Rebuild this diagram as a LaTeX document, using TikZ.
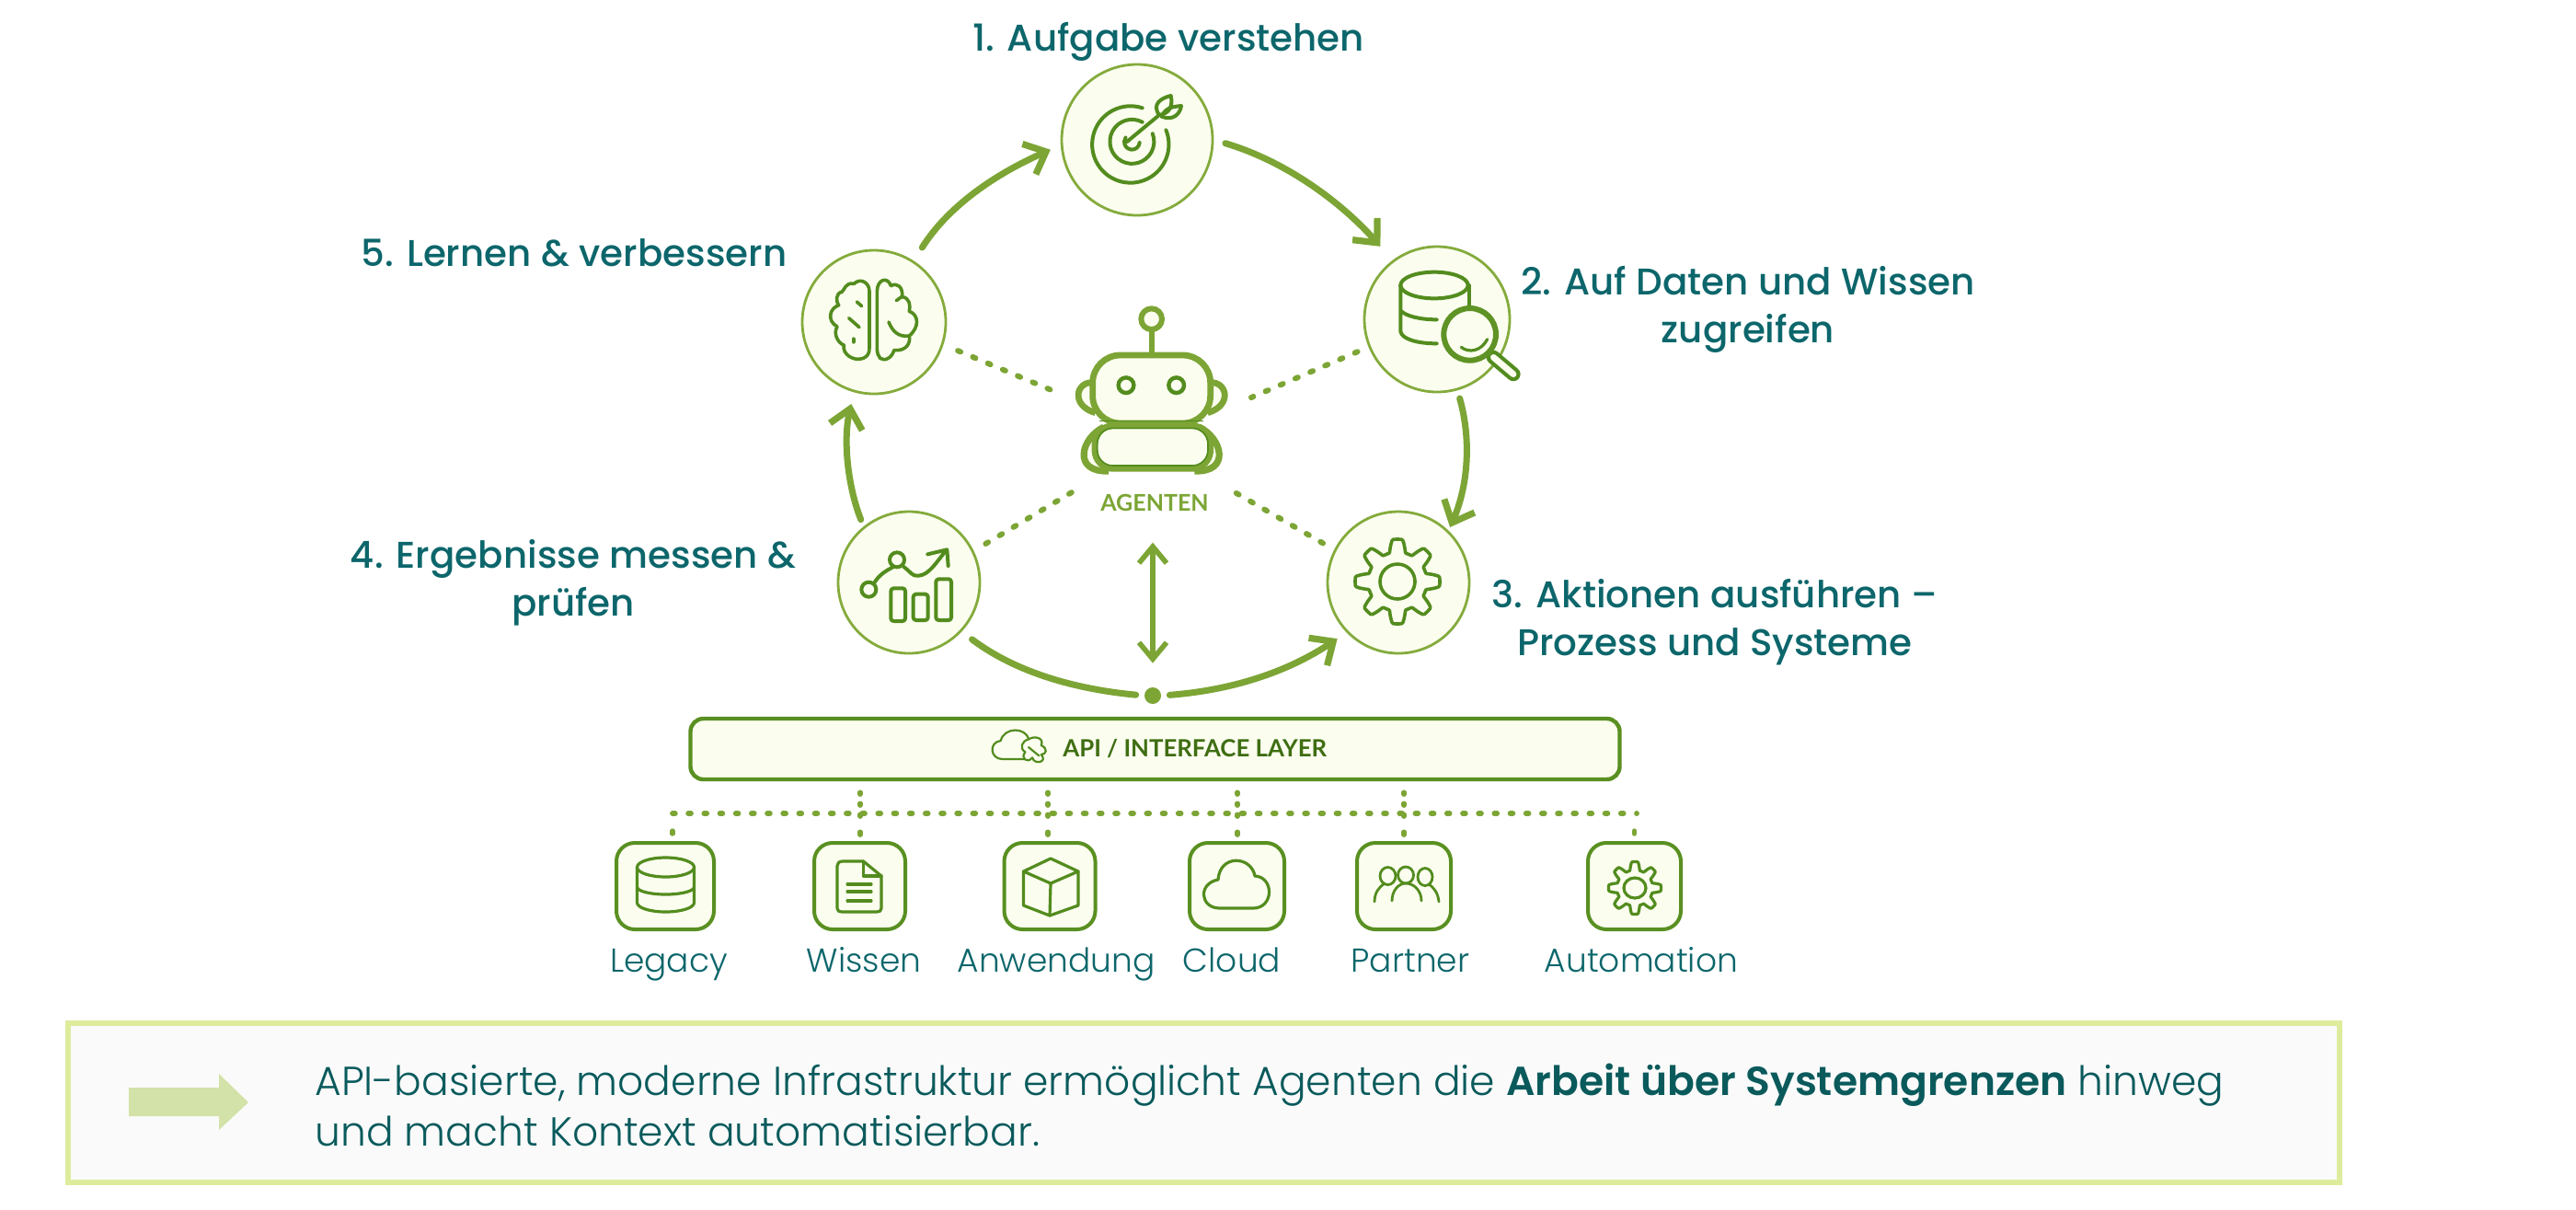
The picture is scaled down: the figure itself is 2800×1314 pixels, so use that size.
\documentclass[tikz,border=0pt]{standalone}
\usepackage{fontspec}
\usetikzlibrary{arrows.meta,calc}
\setmainfont{Poppins}
\newfontfamily\labelfont{Poppins Medium}
\newfontfamily\lightfont[BoldFont={Poppins SemiBold}]{Poppins Light}
\newfontfamily\capsfont{Lato Bold}
\definecolor{flowgreen}{HTML}{7CA535}
\definecolor{icongreen}{HTML}{538C1E}
\definecolor{ringgreen}{HTML}{84AB3C}
\definecolor{cream}{HTML}{FBFDEF}
\definecolor{tealtext}{HTML}{0C666B}
\definecolor{bodytext}{HTML}{0A5A5C}
\definecolor{apitext}{HTML}{3F6E12}
\definecolor{calloutedge}{HTML}{DDEC9C}
\definecolor{calloutfill}{HTML}{FAFAFA}
\definecolor{calloutarrow}{HTML}{D3E2A8}
\tikzset{
  stepcircle/.style={circle,draw=ringgreen,fill=cream,line width=1.4pt,inner sep=0pt,minimum size=#1},
  srcbox/.style={draw=icongreen!85!flowgreen,fill=cream,line width=2pt,rounded corners=10pt,inner sep=0pt,minimum height=47pt},
  flow/.style={draw=flowgreen,line width=3.5pt,line cap=round,-{Straight Barb[length=10pt,width=18pt,line width=3.6pt]}},
  twoway/.style={draw=flowgreen,line width=2.6pt,{Straight Barb[length=9pt,width=15pt,line width=2.8pt]}-{Straight Barb[length=9pt,width=15pt,line width=2.8pt]}},
  spoke/.style={draw=flowgreen,line width=3pt,line cap=round,dash pattern=on 1.6pt off 7.2pt},
  bus/.style={draw=flowgreen,line width=2.9pt,line cap=round,dash pattern=on 1.4pt off 7.19pt},
  stub/.style={draw=flowgreen,line width=2.7pt,line cap=round,dash pattern=on 1pt off 5pt on 1pt off 5pt on 1pt off 8.5pt on 1.5pt off 30pt},
  endstub/.style={draw=flowgreen,line width=2.7pt,line cap=round,dash pattern=on 1.5pt off 30pt},
  iconline/.style={draw=icongreen,line width=2pt,line cap=round,line join=round},
  smallicon/.style={draw=icongreen,line width=1.6pt,line cap=round,line join=round},
  steplabel/.style={text=tealtext,font=\labelfont\fontsize{20.2}{26}\selectfont,align=center,inner sep=0pt},
  srclabel/.style={text=tealtext,font=\lightfont\fontsize{18}{20}\selectfont,inner sep=0pt,anchor=base},
  zoomed/.style={shift={#1},scale=0.33333},
}
\newcommand{\cogwheel}[5]{% centre x, centre y, base radius, tooth amplitude, style
  \draw[#5] plot[domain=0:360,samples=193,variable=\t]
    ({#1+(#3+#4*max(-1,min(1,1.7*cos(8*\t))))*cos(\t)},{#2+(#3+#4*max(-1,min(1,1.7*cos(8*\t))))*sin(\t)}) -- cycle;}
\begin{document}
\begin{tikzpicture}[x=0.5pt,y=-0.5pt]
\useasboundingbox (0,0) rectangle (2800,1314);
\fill[white] (0,0) rectangle (2800,1314);

% Cycle steps
\node[stepcircle=164pt/2] (n1) at (1236,152) {};
\node[stepcircle=158pt/2] (n2) at (1562,347) {};
\node[stepcircle=154pt/2] (n3) at (1520,633) {};
\node[stepcircle=154pt/2] (n4) at (988,633) {};
\node[stepcircle=156pt/2] (n5) at (950,350) {};
\node[circle,fill=flowgreen,minimum size=9pt,inner sep=0pt] (hub) at (1253,756) {};

% Step titles
\node[steplabel] (t1) at (1270,45) {1. Aufgabe verstehen};
\node[steplabel] (t2) at (1900,336) {2. Auf Daten und Wissen\\zugreifen};
\node[steplabel] (t3) at (1864,676) {3. Aktionen ausführen –\\Prozess und Systeme};
\node[steplabel] (t4) at (623,633) {4. Ergebnisse messen \&\\prüfen};
\node[steplabel] (t5) at (624,275) {5. Lernen \& verbessern};

% Cycle arrows
\draw[flow,shorten <=6.5pt,shorten >=10pt] (n1.0) .. controls (1400,176) and (1460,222) .. (n2.127);
\draw[flow,shorten <=8.5pt,shorten >=6pt] (n5.57) .. controls (1030,225) and (1080,190) .. (n1.184);
\draw[flow,shorten <=4.5pt,shorten >=2pt] (n2.-74) .. controls (1600,480) and (1595,530) .. (n3.46);
\draw[flow,shorten <=4pt,shorten >=6.5pt] (n4.129) .. controls (922,530) and (916,480) .. (n5.254);
\draw[draw=flowgreen,line width=3.5pt,line cap=round,shorten <=7pt,shorten >=4.5pt] (n4.-43) .. controls (1110,735) and (1180,750) .. (hub.west);
\draw[flow,shorten <=4.5pt,shorten >=6pt] (hub.east) .. controls (1340,750) and (1400,730) .. (n3.224.5);

% Agent figure
\begin{scope}[zoomed={(1120,320)}]
  \draw[flowgreen,line width=3pt] (395,120) -- (395,195);
  \draw[flowgreen,fill=cream,line width=3pt] (395,80) circle[radius=34];
  \foreach \s/\m in {1/0,-1/790}{
    \begin{scope}[shift={(\m,0)},xscale=\s]
      \draw[flowgreen,fill=cream,line width=3.4pt,line join=round] (205,287) .. controls (148,283) and (130,362) .. (212,386);
      \draw[flowgreen,fill=cream,line width=3.6pt,line join=round] (240,432) .. controls (165,468) and (135,580) .. (255,576);
    \end{scope}
  }
  \draw[flowgreen,fill=cream,line width=3.4pt,rounded corners=15pt] (203,198) rectangle (587,420);
  \draw[flowgreen,fill=cream,line width=3.4pt,rounded corners=10pt] (210,428) rectangle (587,568);
  \draw[icongreen,line width=.8pt,rounded corners=8.5pt] (218,436) rectangle (579,558);
  \draw[icongreen,line width=.8pt] (225,413) -- (565,413);
  \draw[icongreen,fill=cream,line width=2.2pt] (312,296) circle[radius=25];
  \draw[icongreen,fill=cream,line width=2.2pt] (476,296) circle[radius=25];
\end{scope}
\node[text=flowgreen,font=\capsfont\fontsize{12.5}{14}\selectfont,inner sep=0pt] (agenten) at (1255,546) {AGENTEN};
\coordinate (r5) at (1150,427);
\coordinate (r2) at (1360,432);
\coordinate (r4) at (1170,532);
\coordinate (r3) at (1337,532);

% Dotted spokes between the agent and each step
\draw[spoke,shorten <=8.5pt] (n5.-18) -- (r5);
\draw[spoke,shorten <=6.5pt] (n2.202) -- (r2);
\draw[spoke,shorten <=7.5pt] (n4.26) -- (r4);
\draw[spoke,shorten <=7pt] (n3.153) -- (r3);

% Agent to hub
\draw[twoway,shorten <=17pt,shorten >=13pt] (agenten.south -| hub.north) -- (hub.north);

% Step icons
\begin{scope}[zoomed={(1140,80)}]
  \draw[iconline] (305,112) arc[start angle=-72,end angle=-382,radius=125];
  \draw[iconline] (305,158) arc[start angle=-62,end angle=-381,radius=72];
  \draw[iconline] (296,225) arc[start angle=5,end angle=215,radius=25];
  \draw[iconline] (255,222) -- (360,135);
  \draw[iconline] (360,135) .. controls (335,100) and (365,80) .. (398,72) .. controls (405,105) and (395,130) .. (360,135);
  \draw[iconline] (368,140) .. controls (380,110) and (405,108) .. (432,105) .. controls (428,132) and (405,155) .. (368,140);
\end{scope}
\begin{scope}[zoomed={(1460,260)}]
  \draw[iconline] (297,150) ellipse[x radius=110,y radius=43];
  \draw[iconline] (187,150) -- (187,300) .. controls (190,325) and (240,340) .. (305,340);
  \draw[iconline] (190,235) .. controls (205,250) and (250,262) .. (305,262);
  \draw[iconline] (410,150) -- (410,225);
  \draw[icongreen,line width=7.6pt,line cap=round] (490,385) -- (555,440);
  \draw[cream,line width=3.4pt,line cap=round] (490,385) -- (555,440);
  \draw[icongreen!70!flowgreen,fill=cream,line width=3pt] (413,310) circle[radius=85];
  \draw[iconline,line width=1.6pt] (385,352) .. controls (410,372) and (450,365) .. (470,326);
\end{scope}
\cogwheel{1519}{632}{39}{7}{iconline,line width=1.8pt}
\draw[iconline,line width=1.8pt] (1519,632) circle[radius=19];
\begin{scope}[zoomed={(900,560)}]
  \draw[iconline] (133,242) circle[radius=24];
  \draw[iconline] (225,145) circle[radius=24];
  \draw[iconline] (150,222) .. controls (165,195) and (190,180) .. (210,170);
  \draw[iconline] (247,168) .. controls (270,185) and (275,200) .. (295,197) .. controls (330,195) and (355,150) .. (385,115);
  \draw[iconline] (325,127) -- (388,112) -- (392,165);
  \draw[iconline,rounded corners=1.5pt] (205,238) rectangle (252,345);
  \draw[iconline,rounded corners=1.5pt] (278,257) rectangle (326,342);
  \draw[iconline,rounded corners=1.5pt] (352,208) rectangle (402,342);
\end{scope}
\begin{scope}[zoomed={(860,260)}]
  \draw[iconline,line width=1.8pt] (255,170) .. controls (255,140) and (225,125) .. (205,145) .. controls (175,140) and (175,165) .. (165,172) .. controls (145,175) and (145,205) .. (155,215)
     .. controls (125,225) and (115,265) .. (150,285) .. controls (135,310) and (155,340) .. (172,345) .. controls (165,375) and (205,400) .. (235,388) .. controls (250,382) and (255,370) .. (255,355) -- cycle;
  \draw[iconline,line width=1.8pt] (280,170) .. controls (280,130) and (315,120) .. (325,152) .. controls (345,140) and (365,155) .. (362,188) .. controls (385,190) and (390,215) .. (385,235)
     .. controls (415,245) and (420,285) .. (385,315) .. controls (390,340) and (375,365) .. (335,362) .. controls (330,385) and (305,400) .. (290,388) .. controls (283,380) and (280,370) .. (280,355) -- cycle;
  \draw[iconline,line width=1.8pt] (214,204) -- (230,218);
  \draw[iconline,line width=1.8pt] (188,257) -- (222,287);
  \draw[iconline,line width=2pt] (203,325) -- (203,335);
  \draw[iconline,line width=1.8pt] (343,200) -- (362,186);
  \draw[iconline,line width=1.8pt] (318,270) .. controls (330,300) and (350,320) .. (385,315);
\end{scope}

% Interface layer and connected systems
\node[draw=icongreen!85!flowgreen,fill=cream,line width=2.2pt,rounded corners=7pt,minimum width=505pt,minimum height=33pt,inner sep=0pt] (api) at (1255.5,814) {};
\node[text=apitext,font=\capsfont\fontsize{12.9}{15}\selectfont,inner sep=0pt,anchor=west] (apilabel) at (1155,814) {API / INTERFACE LAYER};
\begin{scope}[zoomed={(640,760)}]
  \begin{scope}[xscale=1.148]
  \draw[icongreen,line width=1.1pt,line cap=round,line join=round] (1235,195) -- (1175,195) .. controls (1140,195) and (1135,140) .. (1170,135) .. controls (1180,90) and (1240,90) .. (1250,130);
  \draw[icongreen,line width=1.1pt,line cap=round,line join=round] (1250,130) .. controls (1265,118) and (1295,125) .. (1285,150) .. controls (1305,160) and (1300,180) .. (1285,180) .. controls (1305,205) and (1265,215) .. (1260,190) .. controls (1245,212) and (1225,190) .. (1240,172) .. controls (1222,160) and (1230,135) .. (1250,130);
  \draw[icongreen,line width=1.1pt] (1248,155) -- (1280,185);
  \end{scope}
\end{scope}

\node[srcbox,minimum width=53pt] (s1) at (723,963) {};
\node[srcbox,minimum width=49.5pt] (s2) at (934.5,963) {};
\node[srcbox,minimum width=49.5pt] (s3) at (1141,963) {};
\node[srcbox,minimum width=51.5pt] (s4) at (1344.5,963) {};
\node[srcbox,minimum width=51pt] (s5) at (1526,963) {};
\node[srcbox,minimum width=50.5pt] (s6) at (1776.5,963) {};

\coordinate (busL) at (731,884);
\coordinate (busR) at (1779,884);
\draw[bus] (busL) -- (busR);
\foreach \b/\x in {s2/935,s3/1139,s4/1345,s5/1526}{
  \coordinate (top) at (\x,0);
  \draw[stub,shorten <=6pt,shorten >=3pt] (api.south -| top) -- (\b.north -| top);
}
\draw[endstub,shorten <=9.5pt,shorten >=3pt] (busL) -- (busL |- s1.north);
\draw[endstub,shorten <=9.5pt,shorten >=3pt] (busR -| s6.north) -- (s6.north);

% System icons
\draw[smallicon] (723.5,942.5) ellipse[x radius=31,y radius=10.5];
\draw[smallicon] (692.5,942.5) -- (692.5,981) arc[start angle=180,end angle=0,x radius=31,y radius=10] -- (754.5,942.5);
\draw[smallicon] (692.5,964) arc[start angle=180,end angle=0,x radius=31,y radius=8];
\draw[smallicon,line join=round] (938.5,936) -- (916,936) .. controls (912,936) and (910,938) .. (910,941) -- (910,987) .. controls (910,990) and (912,991) .. (915,991) -- (953,991) .. controls (956,991) and (958,990) .. (958,987) -- (958,952) -- cycle;
\draw[smallicon] (938.5,936) -- (938.5,952) -- (958,952);
\foreach \ly in {961,969,979} \draw[smallicon] (921,\ly) -- (947,\ly);
\draw[smallicon] (1142,933) -- (1172,947) -- (1172,984) -- (1141,995) -- (1112.5,984) -- (1112.5,947) -- cycle;
\draw[smallicon] (1112.5,947) -- (1142,960) -- (1172,947);
\draw[smallicon] (1142,960) -- (1141,995);
\draw[smallicon] (1326,987) .. controls (1304,987) and (1302,960) .. (1324,956) .. controls (1326,928) and (1360,930) .. (1364,952) .. controls (1385,953) and (1385,987) .. (1362,987) -- cycle;
\draw[smallicon,line width=1.4pt] (1528,951) ellipse[x radius=8.5,y radius=9];
\draw[smallicon,line width=1.4pt] (1508.5,952) ellipse[x radius=8.5,y radius=9.5];
\draw[smallicon,line width=1.4pt] (1549,953) ellipse[x radius=8,y radius=9.5];
\draw[smallicon,line width=1.4pt] (1513,979) .. controls (1513,968) and (1520,960) .. (1528,960) .. controls (1537,960) and (1545,968) .. (1545,979);
\draw[smallicon,line width=1.4pt] (1494,980) .. controls (1494,970) and (1499,964) .. (1505,960);
\draw[smallicon,line width=1.4pt] (1564,980) .. controls (1563,970) and (1558,964) .. (1553,961);
\cogwheel{1777}{965}{24}{4.5}{smallicon}
\draw[smallicon] (1777,965) ellipse[x radius=12,y radius=11];

% System names
\node[srclabel] (l1) at (727,1056) {Legacy};
\node[srclabel] (l2) at (939,1056) {Wissen};
\node[srclabel] (l3) at (1148,1056) {Anwendung};
\node[srclabel] (l4) at (1339,1056) {Cloud};
\node[srclabel] (l5) at (1533,1056) {Partner};
\node[srclabel] (l6) at (1784,1056) {Automation};

% Closing statement
\draw[calloutedge,fill=calloutfill,line width=2.6pt] (74,1112) rectangle (2543,1285);
\fill[calloutarrow] (140,1182) -- (238,1182) -- (238,1167) -- (270,1198) -- (238,1228) -- (238,1213) -- (140,1213) -- cycle;
\node[text=bodytext,font=\lightfont\fontsize{22}{27.5}\selectfont,align=left,anchor=west,inner sep=0pt] (note) at (342,1201)
  {API-basierte, moderne Infrastruktur ermöglicht Agenten die \textbf{Arbeit über Systemgrenzen} hinweg\\und macht Kontext automatisierbar.};
\end{tikzpicture}
\end{document}
